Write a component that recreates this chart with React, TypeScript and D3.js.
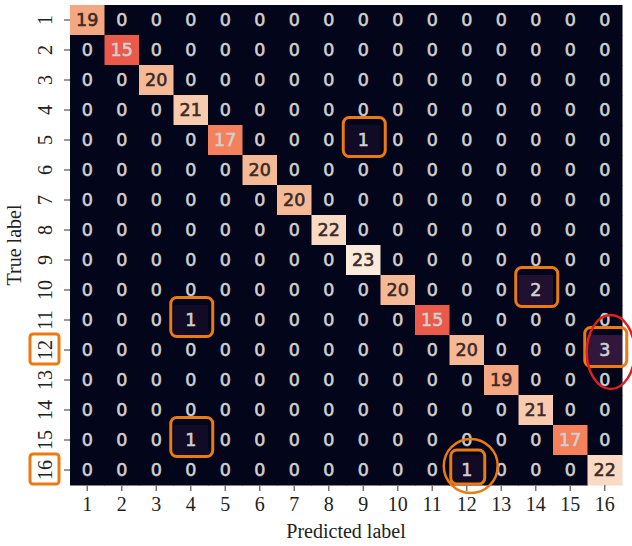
import * as d3 from 'd3';

const labels = ['1', '2', '3', '4', '5', '6', '7', '8', '9', '10', '11', '12', '13', '14', '15', '16'];
const diagonal = [19, 15, 20, 21, 17, 20, 20, 22, 23, 20, 15, 20, 19, 21, 17, 22];
// [true row, predicted col, count] for the misclassified samples
const offDiagonal: [number, number, number][] = [
  [5, 9, 1],
  [10, 14, 2],
  [11, 4, 1],
  [12, 16, 3],
  [15, 4, 1],
  [16, 12, 1],
];
// highlighted cells (orange rounded boxes)
const boxedCells: [number, number][] = [[5, 9], [10, 14], [11, 4], [12, 16], [15, 4], [16, 12]];
const boxedRowLabels = ['12', '16'];

// seaborn "rocket" colormap stops
const rocketStops = ['#03051a', '#35193e', '#701f57', '#ad1759', '#e13342', '#f37651', '#f6b48f', '#faebdd'];

export default function App() {
  const width = 632;
  const height = 546;
  const margin = { top: 5, right: 10, bottom: 61, left: 70 };

  const matrix: number[][] = labels.map((_, i) => labels.map((_, j) => (i === j ? diagonal[i] : 0)));
  offDiagonal.forEach(([r, c, v]) => { matrix[r - 1][c - 1] = v; });

  const cells = matrix.flatMap((row, i) => row.map((v, j) => ({ row: labels[i], col: labels[j], v })));
  const vmax = d3.max(cells, d => d.v) as number;

  const x = d3.scaleBand().domain(labels).range([margin.left, width - margin.right]);
  const y = d3.scaleBand().domain(labels).range([margin.top, height - margin.bottom]);
  const rocket = d3.piecewise(d3.interpolateRgb, rocketStops);
  const color = (v: number) => rocket(v / vmax);

  const tickFont = '"Liberation Serif", "Times New Roman", serif';
  const bottom = height - margin.bottom;

  return (
    <svg width={width} height={height} style={{ position: 'absolute', left: 0, top: 0, background: '#fff' }}>
      {cells.map((d, k) => (
        <rect key={k} x={x(d.col)} y={y(d.row)} width={x.bandwidth() + 0.5} height={y.bandwidth() + 0.5} fill={color(d.v)} />
      ))}
      {cells.map((d, k) => {
        const c = d.v / vmax > 0.78 ? '#3a2a28' : '#d0d0d0';
        return (
          <text
            key={'t' + k}
            x={(x(d.col) as number) + x.bandwidth() / 2}
            y={(y(d.row) as number) + y.bandwidth() / 2}
            dy="0.36em"
            textAnchor="middle"
            fontFamily='"DejaVu Sans", sans-serif'
            fontSize={17.5}
            fill={c}
            stroke={c}
            strokeWidth={0.6}
          >
            {d.v}
          </text>
        );
      })}

      {/* axes ticks */}
      {labels.map(l => (
        <g key={'x' + l}>
          <line x1={(x(l) as number) + x.bandwidth() / 2} x2={(x(l) as number) + x.bandwidth() / 2} y1={bottom} y2={bottom + 6} stroke="#777" strokeWidth={1.5} />
          <text x={(x(l) as number) + x.bandwidth() / 2} y={bottom + 26} textAnchor="middle" fontFamily={tickFont} fontSize={20} fill="#222">{l}</text>
        </g>
      ))}
      {labels.map(l => {
        const cy = (y(l) as number) + y.bandwidth() / 2;
        return (
          <g key={'y' + l}>
            <line x1={margin.left - 6} x2={margin.left} y1={cy} y2={cy} stroke="#777" strokeWidth={1.5} />
            <text transform={`translate(${margin.left - 18},${cy}) rotate(-90)`} textAnchor="middle" fontFamily={tickFont} fontSize={20} fill="#222">{l}</text>
          </g>
        );
      })}
      <text x={(margin.left + width - margin.right) / 2} y={height - 8} textAnchor="middle" fontFamily={tickFont} fontSize={20} fill="#222">Predicted label</text>
      <text transform={`translate(21,${(margin.top + bottom) / 2}) rotate(-90)`} textAnchor="middle" fontFamily={tickFont} fontSize={20} fill="#222">True label</text>

      {/* highlight annotations */}
      {boxedCells.map(([r, c], k) => {
        const cx = (x(labels[c - 1]) as number) + x.bandwidth() / 2;
        const cy = (y(labels[r - 1]) as number) + y.bandwidth() / 2;
        const w = r === 16 ? 34 : 42;
        const h = r === 16 ? 34 : 39;
        return <rect key={'b' + k} x={cx - w / 2 + 1} y={cy - h / 2 - 3} width={w} height={h} rx={6} fill="none" stroke="#ec7a12" strokeWidth={3} />;
      })}
      {boxedRowLabels.map(l => {
        const cy = (y(l) as number) + y.bandwidth() / 2;
        return <rect key={'bl' + l} x={margin.left - 40} y={cy - 16} width={29} height={30} rx={3} fill="none" stroke="#ec7a12" strokeWidth={3} />;
      })}
      <circle cx={(x('12') as number) + x.bandwidth() / 2 + 4} cy={(y('16') as number) + y.bandwidth() / 2 - 4} r={27} fill="none" stroke="#ec7a12" strokeWidth={2.5} />
      <ellipse cx={(x('16') as number) + x.bandwidth() / 2 + 6} cy={(y('12') as number) + y.bandwidth() / 2 + 2} rx={24} ry={37} fill="none" stroke="#e0201e" strokeWidth={2.5} />
    </svg>
  );
}
